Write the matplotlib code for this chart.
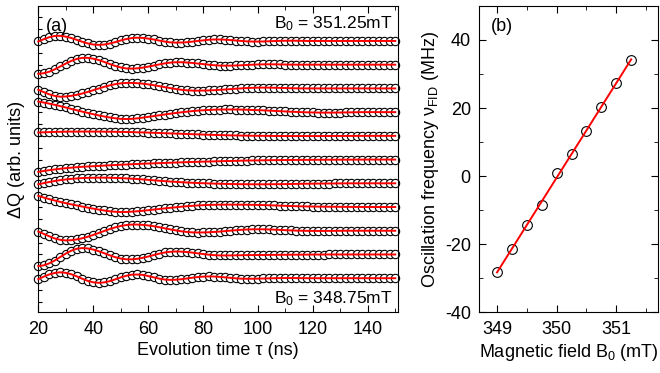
import matplotlib
matplotlib.use('Agg')
import matplotlib.pyplot as plt
import numpy as np
from matplotlib.ticker import MultipleLocator

plt.rcParams['font.family'] = ['Liberation Sans', 'DejaVu Sans']
plt.rcParams['mathtext.fontset'] = 'custom'
plt.rcParams['mathtext.rm'] = 'Liberation Sans'
plt.rcParams['mathtext.it'] = 'Liberation Sans:italic'
plt.rcParams['axes.unicode_minus'] = False

# evolution time, 2 ns steps
tau = np.arange(20, 151, 2)

# Delta Q traces (arb. units), top (351.25 mT) to bottom (348.75 mT)
dq_35125 = [-0.5, 1.8, 3.8, 5.1, 5.2, 4.4, 3.0, 1.1, -0.8, -2.5, -3.6, -4.0, -3.6, -2.6, -1.2, 0.5,
            1.9, 2.9, 3.3, 3.1, 2.4, 1.5, 0.4, -0.6, -1.4, -1.7, -1.6, -1.3, -0.7, 0.0, 0.6, 1.2,
            1.5, 1.5, 1.3, 0.9, 0.45, 0.0, -0.4, -0.6, -0.6, -0.5, -0.3, -0.1, 0.1, 0.2, 0.25, 0.2,
            0.1, 0.0, 0, 0, 0, 0, 0, 0, 0, 0, 0, 0, 0, 0, 0, 0, 0, 0]
dq_35100 = [-9.2, -8.6, -7.1, -4.7, -1.8, 1.1, 3.8, 5.8, 6.9, 6.9, 6.1, 4.7, 2.8, 0.7, -1.25, -2.8,
            -3.8, -4.0, -3.7, -3.0, -2.0, -0.9, 0.25, 1.3, 2.05, 2.45, 2.5, 2.2, 1.8, 1.2, 0.6, 0.0,
            -0.55, -0.9, -1.0, -0.95, -0.8, -0.57, -0.3, -0.03, 0.2, 0.35, 0.4, 0.35, 0.25, 0.15, 0.05,
            0, 0, 0, 0, 0, 0, 0, 0, 0, 0, 0, 0, 0, 0, 0, 0, 0, 0, 0]
dq_35075 = [-1.4, -3.8, -6.0, -7.6, -8.4, -8.2, -7.5, -6.5, -5.15, -3.6, -1.85, -0.1, 1.6, 3.05, 4.3, 5.1,
            5.55, 5.55, 5.3, 4.8, 4.1, 3.25, 2.3, 1.3, 0.3, -0.6, -1.35, -1.9, -2.2, -2.3, -2.2, -2.05,
            -1.8, -1.45, -1.1, -0.7, -0.3, 0.05, 0.35, 0.6, 0.75, 0.8, 0.75, 0.65, 0.5, 0.35, 0.2, 0.1,
            0.0, 0, 0, 0, 0, 0, 0, 0, 0, 0, 0, 0, 0, 0, 0, 0, 0, 0]
dq_35050 = [10.7, 9.7, 8.6, 7.4, 6.1, 4.7, 3.3, 1.9, 0.5, -0.8, -2.1, -3.3, -4.4, -5.4, -6.2, -6.8,
            -7.0, -6.8, -6.3, -5.6, -4.8, -4.0, -3.2, -2.4, -1.6, -0.9, -0.2, 0.4, 1.0, 1.5, 1.9, 2.2,
            2.45, 2.6, 2.7, 2.7, 2.65, 2.55, 2.4, 2.2, 2.0, 1.8, 1.5, 1.25, 0.95, 0.7, 0.4, 0.2,
            -0.05, -0.2, -0.35, -0.45, -0.5, -0.5, -0.45, -0.4, -0.3, -0.2, -0.1, 0, 0, 0, 0, 0, 0, 0]
dq_35025 = [3.4, 3.6, 3.8, 4.0, 4.1, 4.2, 4.3, 4.3, 4.35, 4.35, 4.3, 4.3, 4.2, 4.2, 4.1, 4.0,
            3.9, 3.8, 3.6, 3.5, 3.3, 3.1, 2.9, 2.7, 2.5, 2.3, 2.1, 1.9, 1.7, 1.5, 1.3, 1.1,
            0.95, 0.8, 0.65, 0.5, 0.4, 0.3, 0.2, 0.1, 0.05, 0.0, -0.05, -0.1, -0.15, -0.2, -0.2, -0.2,
            -0.2, -0.2, -0.2, -0.2, -0.15, -0.15, -0.1, -0.1, -0.1, -0.05, -0.05, 0, 0, 0, 0, 0, 0, 0]
dq_35000 = [-12.4, -11.5, -10.7, -10.0, -9.3, -8.7, -8.2, -7.7, -7.3, -7.0, -6.7, -6.4, -6.1, -5.8, -5.5, -5.2,
            -5.0, -4.7, -4.5, -4.2, -4.0, -3.8, -3.6, -3.4, -3.2, -3.0, -2.8, -2.6, -2.4, -2.3, -2.1, -2.0,
            -1.8, -1.7, -1.5, -1.4, -1.3, -1.1, -1.0, -0.9, -0.8, -0.7, -0.6, -0.55, -0.5, -0.45, -0.4, -0.35,
            -0.3, -0.3, -0.25, -0.2, -0.2, -0.15, -0.15, -0.1, -0.1, -0.1, -0.05, -0.05, 0, 0, 0, 0, 0, 0]
dq_34975 = [-1.0, 0.2, 1.3, 2.3, 3.2, 3.9, 4.5, 4.9, 5.3, 5.5, 5.6, 5.7, 5.7, 5.6, 5.45, 5.25,
            5.0, 4.7, 4.35, 3.95, 3.5, 3.05, 2.6, 2.2, 1.8, 1.45, 1.1, 0.8, 0.55, 0.3, 0.1, -0.1,
            -0.3, -0.45, -0.6, -0.7, -0.8, -0.9, -0.95, -1.0, -1.0, -1.0, -0.95, -0.9, -0.85, -0.8, -0.7, -0.6,
            -0.5, -0.45, -0.4, -0.3, -0.25, -0.2, -0.15, -0.1, -0.05, 0, 0, 0, 0, 0, 0, 0, 0, 0]
dq_34950 = [11.3, 9.6, 8.0, 6.6, 5.2, 3.9, 2.7, 1.6, 0.5, -0.6, -1.6, -2.6, -3.5, -4.3, -4.8, -5.1,
            -5.0, -4.7, -4.3, -3.8, -3.2, -2.6, -2.0, -1.4, -0.8, -0.3, 0.3, 0.8, 1.2, 1.6, 1.9, 2.1,
            2.25, 2.35, 2.4, 2.4, 2.4, 2.35, 2.3, 2.2, 2.1, 1.95, 1.8, 1.6, 1.4, 1.2, 1.0, 0.85,
            0.7, 0.6, 0.5, 0.4, 0.35, 0.3, 0.25, 0.2, 0.15, 0.1, 0.1, 0.05, 0.05, 0, 0, 0, 0, 0]
dq_34925 = [-0.8, -3.2, -5.6, -7.8, -9.2, -9.8, -9.55, -8.8, -7.6, -6.05, -4.25, -2.25, -0.25, 1.7, 3.4, 4.8,
            5.75, 6.25, 6.25, 5.95, 5.4, 4.6, 3.6, 2.5, 1.4, 0.4, -0.5, -1.2, -1.65, -1.8, -1.7, -1.55,
            -1.2, -0.85, -0.4, 0.1, 0.55, 0.95, 1.25, 1.45, 1.5, 1.45, 1.3, 1.1, 0.85, 0.6, 0.35, 0.15,
            0.0, -0.1, -0.15, -0.2, -0.2, -0.15, -0.1, -0.05, 0, 0, 0, 0, 0, 0, 0, 0, 0, 0]
dq_34900 = [-11.7, -11.0, -9.0, -6.1, -2.6, 0.9, 3.8, 5.8, 6.5, 6.1, 5.0, 3.3, 1.3, -0.8, -2.7, -4.1,
            -4.9, -4.95, -4.4, -3.4, -2.1, -0.65, 0.8, 2.0, 2.7, 3.0, 2.85, 2.5, 1.9, 1.2, 0.45, -0.2,
            -0.7, -0.95, -1.0, -0.95, -0.85, -0.75, -0.65, -0.6, -0.55, -0.5, -0.45, -0.4, -0.35, -0.3, -0.25, -0.2,
            -0.2, -0.15, -0.1, -0.1, -0.05, 0, 0, 0, 0, 0, 0, 0, 0, 0, 0, 0, 0, 0]
dq_34875 = [-1.0, 1.6, 3.8, 5.3, 6.0, 5.45, 4.0, 1.85, -0.55, -2.7, -4.15, -4.7, -4.25, -3.0, -1.2, 0.8,
            2.4, 3.55, 3.75, 3.3, 2.2, 0.9, -0.4, -1.35, -1.7, -1.55, -1.05, -0.35, 0.45, 1.15, 1.6, 1.8,
            1.7, 1.35, 0.85, 0.35, -0.15, -0.5, -0.6, -0.55, -0.45, -0.3, -0.15, 0.0, 0.1, 0.15, 0.15, 0.1,
            0.05, 0, 0, 0, 0, 0, 0, 0, 0, 0, 0, 0, 0, 0, 0, 0, 0, 0]

traces = [dq_35125, dq_35100, dq_35075, dq_35050, dq_35025, dq_35000,
          dq_34975, dq_34950, dq_34925, dq_34900, dq_34875]
spacing = 24  # vertical offset between traces

# panel (b): FID oscillation frequency vs field
b_field = [349.0, 349.25, 349.5, 349.75, 350.0, 350.25, 350.5, 350.75, 351.0, 351.25]
nu_fid = [-28.2, -21.4, -14.4, -8.6, 1.0, 6.6, 13.2, 20.4, 27.3, 34.2]

fig = plt.figure(figsize=(6.6, 3.73), dpi=100)
ax1 = fig.add_axes([0.058, 0.163, 0.545, 0.821])
ax2 = fig.add_axes([0.726, 0.163, 0.271, 0.821])

n = len(traces)
for i, dq in enumerate(traces):
    y = np.array(dq) + (n - 1 - i) * spacing
    ax1.plot(tau, y, 'o', ms=6, mfc='white', mec='black', mew=0.8, clip_on=False, zorder=2)
    ax1.plot(tau, y, '-', color='red', lw=1.4, clip_on=False, zorder=3)

ax1.set_xlim(20, 151)
ax1.set_ylim(-34.4, (n - 1) * spacing + 35.4)
ax1.xaxis.set_major_locator(MultipleLocator(20))
ax1.xaxis.set_minor_locator(MultipleLocator(10))
ax1.yaxis.set_major_locator(MultipleLocator(12))
ax1.set_yticklabels([])
ax1.tick_params(axis='x', which='both', direction='in', top=True, labelsize=13, pad=6)
ax1.tick_params(axis='x', which='major', length=5)
ax1.tick_params(axis='x', which='minor', length=3)
ax1.tick_params(axis='y', which='both', direction='in', length=3, left=True, right=False)
ax1.set_xlabel('Evolution time τ (ns)', fontsize=13, labelpad=3)
ax1.set_ylabel('ΔQ (arb. units)', fontsize=13, labelpad=6)
ax1.text(0.022, 0.933, '(a)', transform=ax1.transAxes, fontsize=13, va='center', ha='left')
ax1.text(0.986, 0.927, r'B$_0$ = 351.25mT', transform=ax1.transAxes, fontsize=12.5,
         va='baseline', ha='right')
ax1.text(0.985, 0.029, r'B$_0$ = 348.75mT', transform=ax1.transAxes, fontsize=12.5,
         va='baseline', ha='right')

# linear fit through the frequencies
coef = np.polyfit(b_field, nu_fid, 1)
bx = np.array([b_field[0], b_field[-1]])
ax2.plot(b_field, nu_fid, 'o', ms=7, mfc='none', mec='black', mew=0.8, zorder=2)
ax2.plot(bx, np.polyval(coef, bx), '-', color='red', lw=1.4, zorder=3)
ax2.set_xlim(348.7, 351.7)
ax2.set_ylim(-40, 50)
ax2.xaxis.set_major_locator(MultipleLocator(1))
ax2.xaxis.set_minor_locator(MultipleLocator(0.5))
ax2.yaxis.set_major_locator(MultipleLocator(20))
ax2.yaxis.set_minor_locator(MultipleLocator(10))
ax2.tick_params(which='both', direction='in', top=True, right=True, labelsize=13, pad=6)
ax2.tick_params(which='major', length=5)
ax2.tick_params(which='minor', length=3)
ax2.set_xlabel(r'Magnetic field B$_0$ (mT)', fontsize=13, labelpad=3)
ax2.set_ylabel(r'Oscillation frequency $\mathregular{\nu_{FID}}$ (MHz)', fontsize=13, labelpad=3)
ax2.text(0.065, 0.933, '(b)', transform=ax2.transAxes, fontsize=13, va='center', ha='left')

fig.savefig('out.png', dpi=100)
